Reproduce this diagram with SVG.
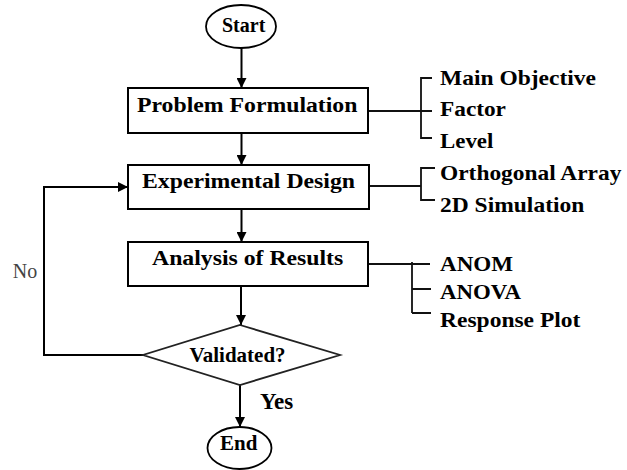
<svg xmlns="http://www.w3.org/2000/svg" width="627" height="470" viewBox="0 0 627 470">
<defs>
<marker id="ah" viewBox="0 0 10 10" refX="10" refY="5" markerWidth="10" markerHeight="10" markerUnits="userSpaceOnUse" orient="auto">
<path d="M0,0 L10,5 L0,10 Z" fill="#000"/>
</marker>
<style>
.box{fill:#fff;stroke:#000;stroke-width:2}
.ln{fill:none;stroke:#000;stroke-width:2}
.br{fill:none;stroke:#111;stroke-width:1.8}
</style>
</defs>
<rect width="627" height="470" fill="#fff"/>
<g id="connectors">
<path class="ln" d="M241.5,48 V88" marker-end="url(#ah)"/>
<path class="ln" d="M241.5,133 V165" marker-end="url(#ah)"/>
<path class="ln" d="M241.5,209 V242" marker-end="url(#ah)"/>
<path class="ln" d="M241,286 V325" marker-end="url(#ah)"/>
<path class="ln" d="M240,385 V427" marker-end="url(#ah)"/>
<path class="ln" d="M143,355 H44 V187 H128" marker-end="url(#ah)"/>
<path class="br" d="M368,111 H432 M432,78 H421 V138 H432"/>
<path class="br" d="M369,186 H421 M435,168 H421 V200 H435"/>
<path class="br" d="M368,264 H430 M412,262 V313 M412,289 H431 M412,313 H431"/>
</g>
<g id="start">
<ellipse cx="241" cy="26.5" rx="35" ry="21.5" fill="#fff" stroke="#000" stroke-width="1.8"/>
<text x="222" y="32" font-family="Liberation Serif" font-weight="bold" font-size="20">Start</text>
</g>
<g id="problem">
<rect class="box" x="128" y="88" width="240" height="45"/>
<text transform="translate(137,111.5) scale(1.08,1)" font-family="Liberation Serif" font-weight="bold" font-size="22">Problem Formulation</text>
</g>
<g id="problem-items">
<text transform="translate(440,85) scale(1.12,1)" font-family="Liberation Serif" font-weight="bold" font-size="21">Main Objective</text>
<text transform="translate(440,116) scale(1.11,1)" font-family="Liberation Serif" font-weight="bold" font-size="21">Factor</text>
<text transform="translate(440,148) scale(1.09,1)" font-family="Liberation Serif" font-weight="bold" font-size="21">Level</text>
</g>
<g id="design">
<rect class="box" x="128" y="165" width="241" height="44"/>
<text transform="translate(142,188.3) scale(1.08,1)" font-family="Liberation Serif" font-weight="bold" font-size="22">Experimental Design</text>
</g>
<g id="design-items">
<text transform="translate(440,180) scale(1.115,1)" font-family="Liberation Serif" font-weight="bold" font-size="21">Orthogonal Array</text>
<text transform="translate(440,211.5) scale(1.12,1)" font-family="Liberation Serif" font-weight="bold" font-size="21">2D Simulation</text>
</g>
<g id="analysis">
<rect class="box" x="128" y="242" width="240" height="44"/>
<text transform="translate(152,265) scale(1.08,1)" font-family="Liberation Serif" font-weight="bold" font-size="22">Analysis of Results</text>
</g>
<g id="analysis-items">
<text transform="translate(440,270.7) scale(1.1,1)" font-family="Liberation Serif" font-weight="bold" font-size="21">ANOM</text>
<text transform="translate(440,299) scale(1.09,1)" font-family="Liberation Serif" font-weight="bold" font-size="21">ANOVA</text>
<text transform="translate(440,326.7) scale(1.12,1)" font-family="Liberation Serif" font-weight="bold" font-size="21">Response Plot</text>
</g>
<g id="validated">
<polygon points="240,325 340,355 240,385 143,355" fill="#fff" stroke="#222" stroke-width="1.8"/>
<text x="189.5" y="361.7" font-family="Liberation Serif" font-weight="bold" font-size="21">Validated?</text>
</g>
<g id="yes-label">
<text x="260" y="409" font-family="Liberation Serif" font-weight="bold" font-size="23">Yes</text>
</g>
<g id="end">
<ellipse cx="239.5" cy="448" rx="32" ry="21" fill="#fff" stroke="#000" stroke-width="1.8"/>
<text x="220" y="450" font-family="Liberation Serif" font-weight="bold" font-size="21">End</text>
</g>
<g id="no-label">
<text x="12.7" y="278" font-family="Liberation Serif" font-size="20" fill="#444">No</text>
</g>
</svg>
